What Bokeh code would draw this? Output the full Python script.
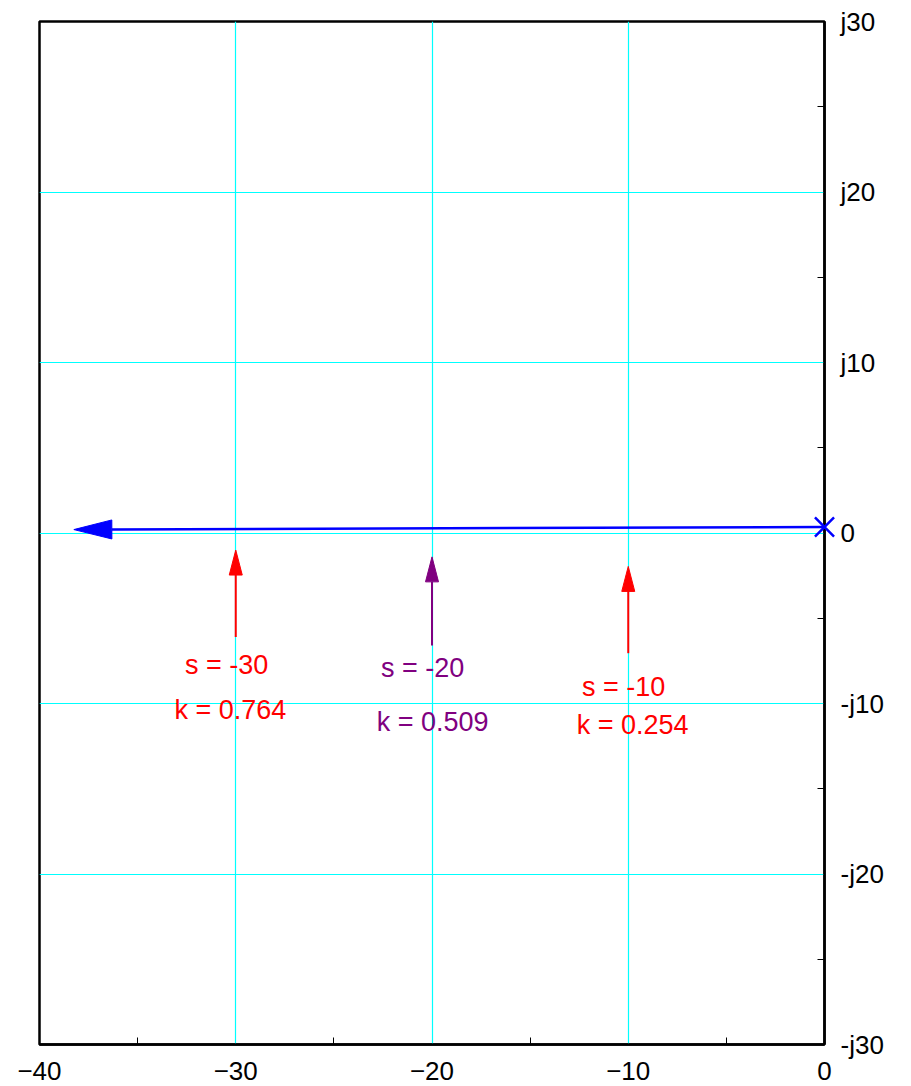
import numpy as np
from bokeh.plotting import figure
from bokeh.models import FixedTicker, Range1d, ColumnDataSource
from bokeh.core.properties import value
from bokeh.embed import file_html
from bokeh.resources import INLINE

# ---- data ----
x_ticks = [-40, -30, -20, -10, 0]
x_minor = [-35, -25, -15, -5]
y_ticks = [-30, -20, -10, 0, 10, 20, 30]
y_minor = [-25, -15, -5, 5, 15, 25]
y_tick_labels = ["-j30", "-j20", "-j10", "0", "j10", "j20", "j30"]

locus_x = [0.0, -38.25]        # root locus start (pole) -> arrow tip
locus_y = [0.35, 0.2]

arrow_x = [-30.0, -20.0, -10.0]
arrow_y_start = [-6.1, -6.6, -7.05]
arrow_y_end = [-1.0, -1.4, -1.96]
arrow_colors = ["#ff0000", "#800080", "#ff0000"]

s_labels = ["s = -30", "s = -20", "s = -10"]
s_label_x = [-30.47, -20.48, -10.24]
s_label_y = [-7.76, -7.94, -9.05]
k_labels = ["k = 0.764", "k = 0.509", "k = 0.254"]
k_label_x = [-30.27, -19.97, -9.78]
k_label_y = [-10.4, -11.1, -11.28]

# ---- figure ----
XR = (-40, 0)
YR = (-30, 30)
FW, FH = 785, 1023
FONT = "Liberation Sans"

p = figure(frame_width=FW, frame_height=FH, x_range=Range1d(*XR), y_range=Range1d(*YR),
           y_axis_location="right", output_backend="svg", toolbar_location=None,
           min_border_left=39, min_border_top=21, min_border_bottom=40, min_border_right=80)
p.background_fill_color = "white"
p.border_fill_color = "white"
p.outline_line_color = "black"
p.outline_line_width = 2.5

# axes
xa = p.xaxis[0]
xa.ticker = FixedTicker(ticks=x_ticks, minor_ticks=x_minor)
ya = p.yaxis[0]
ya.ticker = FixedTicker(ticks=y_ticks, minor_ticks=y_minor)
ya.major_label_overrides = {t: l for t, l in zip(y_ticks, y_tick_labels)}
for ax in (xa, ya):
    ax.axis_line_color = "black"
    ax.axis_line_width = 2.5
    ax.major_tick_in = 0
    ax.major_tick_out = 0
    ax.minor_tick_in = 7
    ax.minor_tick_out = 0
    ax.minor_tick_line_color = "black"
    ax.minor_tick_line_width = 1
    ax.major_label_text_font = FONT
    ax.major_label_text_font_size = "26px"
    ax.major_label_text_color = "black"
xa.major_label_standoff = 17
ya.major_label_standoff = 16

p.xgrid.ticker = FixedTicker(ticks=x_ticks)
p.ygrid.ticker = FixedTicker(ticks=y_ticks)
p.grid.grid_line_color = "#00ffff"
p.grid.grid_line_width = 1.2

sx = FW / (XR[1] - XR[0])
sy = FH / (YR[1] - YR[0])


def arrow(x0, y0, x1, y1, color, lw, head_len, head_w):
    dxp = (x1 - x0) * sx
    dyp = (y1 - y0) * sy
    n = np.hypot(dxp, dyp)
    ux, uy = dxp / n, dyp / n
    bx_p, by_p = -ux * head_len, -uy * head_len
    px, py = -uy * head_w / 2, ux * head_w / 2
    base_x = x1 + bx_p / sx
    base_y = y1 + by_p / sy
    p.line([x0, base_x], [y0, base_y], line_color=color, line_width=lw)
    hx = [x1, base_x + px / sx, base_x - px / sx]
    hy = [y1, base_y + py / sy, base_y - py / sy]
    p.patch(hx, hy, fill_color=color, line_color=color, line_width=1)


# root locus (blue)
arrow(locus_x[0], locus_y[0], locus_x[1], locus_y[1], "#0000ff", 2.5, 38, 19)

# pole cross, drawn at overlay level so it is not clipped by the frame
p.scatter([locus_x[0]], [locus_y[0]], marker="x", size=27, line_color="#0000ff",
          line_width=2.5, level="overlay")

# s markers
for xa_, y0, y1, c in zip(arrow_x, arrow_y_start, arrow_y_end, arrow_colors):
    arrow(xa_, y0, xa_, y1, c, 2, 25, 13)

src = ColumnDataSource(dict(sx=s_label_x, sy=s_label_y, st=s_labels,
                            kx=k_label_x, ky=k_label_y, kt=k_labels, c=arrow_colors))
p.text(x="sx", y="sy", text="st", source=src, text_color="c", text_align="center",
       text_baseline="middle", text_font=value(FONT), text_font_size="27px")
p.text(x="kx", y="ky", text="kt", source=src, text_color="c", text_align="center",
       text_baseline="middle", text_font=value(FONT), text_font_size="27px")

open("out.html", "w").write(file_html(p, INLINE))
